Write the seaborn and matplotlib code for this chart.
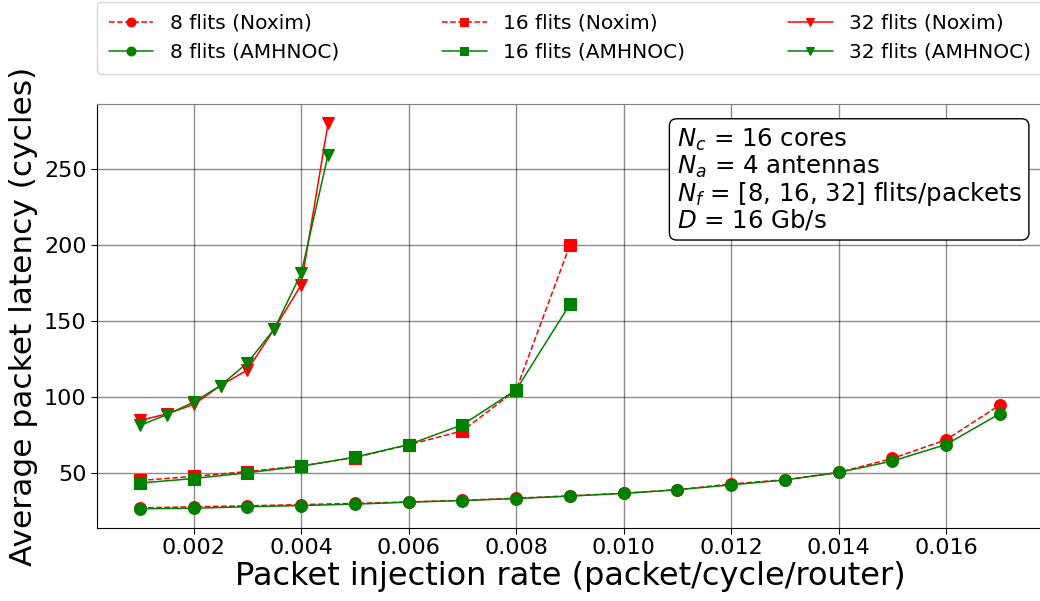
import pandas as pd
import matplotlib
matplotlib.use("Agg")
import matplotlib.pyplot as plt
import seaborn as sns

# injection rates
x_8 = [0.001, 0.002, 0.003, 0.004, 0.005, 0.006, 0.007, 0.008, 0.009,
       0.010, 0.011, 0.012, 0.013, 0.014, 0.015, 0.016, 0.017]
x_16 = [0.001, 0.002, 0.003, 0.004, 0.005, 0.006, 0.007, 0.008, 0.009]
x_32 = [0.001, 0.0015, 0.002, 0.0025, 0.003, 0.0035, 0.004, 0.0045]

# average packet latency (cycles)
noxim_8 = [26.8, 27.6, 28.2, 29.0, 29.8, 30.8, 31.8, 33.2, 34.8,
           36.5, 38.8, 42.6, 45.4, 50.2, 59.4, 71.7, 94.6]
amhnoc_8 = [26.3, 26.6, 27.6, 28.4, 29.3, 30.6, 31.7, 33.0, 34.6,
            36.4, 38.8, 42.0, 45.2, 50.2, 57.7, 68.6, 88.9]
noxim_16 = [44.9, 47.6, 50.8, 54.5, 60.0, 68.4, 77.6, 104.6, 200.0]
amhnoc_16 = [43.2, 46.2, 50.0, 54.3, 60.3, 68.6, 81.6, 104.6, 161.0]
noxim_32 = [84.5, 88.8, 95.0, 107.5, 117.8, 144.8, 173.9, 280.4]
amhnoc_32 = [81.2, 88.3, 96.6, 107.5, 122.5, 144.8, 181.5, 259.6]

series = [
    ("8 flits (Noxim)", x_8, noxim_8, "red", "o", "--"),
    ("8 flits (AMHNOC)", x_8, amhnoc_8, "green", "o", "-"),
    ("16 flits (Noxim)", x_16, noxim_16, "red", "s", "--"),
    ("16 flits (AMHNOC)", x_16, amhnoc_16, "green", "s", "-"),
    ("32 flits (Noxim)", x_32, noxim_32, "red", "v", "-"),
    ("32 flits (AMHNOC)", x_32, amhnoc_32, "green", "v", "-"),
]

sns.set_style("white")
plt.rcParams['font.family'] = ['DejaVu Sans']
plt.rcParams.update({"text.color": "black", "axes.labelcolor": "black",
                     "xtick.color": "black", "ytick.color": "black"})

fig, ax = plt.subplots(figsize=(10.4, 6.01), dpi=100)
fig.subplots_adjust(left=0.0933, right=1.0026, top=0.827, bottom=0.1215)

for name, xs, ys, col, mk, ls in series:
    df = pd.DataFrame({"rate": xs, "latency": ys})
    sns.lineplot(data=df, x="rate", y="latency", ax=ax, color=col, marker=mk,
                 linestyle=ls, linewidth=1.1, markersize=8.5,
                 markeredgecolor=col, markeredgewidth=0.8, label=name)

ax.grid(True, color="black", alpha=0.45, linewidth=1)
ax.set_axisbelow(True)
ax.margins(x=0.05, y=0.05)
ax.set_xticks([0.002, 0.004, 0.006, 0.008, 0.010, 0.012, 0.014, 0.016])
ax.set_yticks([50, 100, 150, 200, 250])
ax.tick_params(axis="both", labelsize=16, direction="out", length=4,
               left=True, bottom=True, color="black", labelcolor="black")
for s in ["left", "bottom"]:
    ax.spines[s].set_color("black")
ax.spines["top"].set_color("#808080")

ax.set_xlabel("Packet injection rate (packet/cycle/router)", fontsize=23, labelpad=2)
ax.set_ylabel("Average packet latency (cycles)", fontsize=22.5)

leg = ax.legend(bbox_to_anchor=(0.0, 1.071, 1.0, 0.16), loc="lower left", ncol=3,
                mode="expand", borderaxespad=0.0, fontsize=14.5, frameon=True,
                markerscale=0.75, handlelength=2.2, borderpad=0.6)
for t in leg.get_texts():
    t.set_color("black")

info = ("$N_c$ = 16 cores\n$N_a$ = 4 antennas\n"
        "$N_f$ = [8, 16, 32] flits/packets\n$D$ = 16 Gb/s")
ax.text(0.613, 0.945, info, transform=ax.transAxes, fontsize=17.6, va="top",
        ha="left", linespacing=1.0, color="black",
        bbox=dict(boxstyle="round,pad=0.3", facecolor="white",
                  edgecolor="black"))

fig.savefig("out.png", dpi=100)
